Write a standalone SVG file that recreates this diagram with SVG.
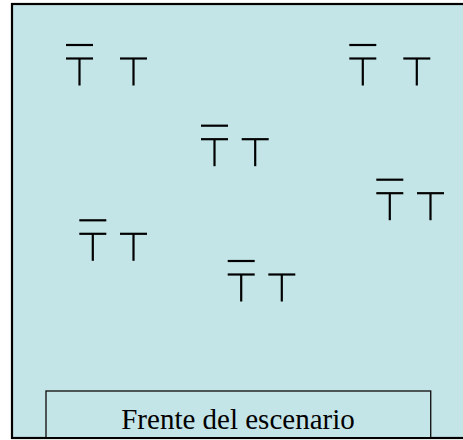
<svg xmlns="http://www.w3.org/2000/svg" xmlns:xlink="http://www.w3.org/1999/xlink" width="463" height="440" viewBox="0 0 463 440">
  <style>
    .frame { fill: #C4E5E8; stroke: #000000; stroke-width: 2.2; }
    .stage { fill: #C4E5E8; stroke: #1a1a1a; stroke-width: 1.4; }
    .mark line { stroke: #000000; stroke-width: 2.2; }
    .label { font-family: "Liberation Serif", "Times New Roman", serif; font-size: 29px; fill: #000000; }
  </style>
  <defs>
    <g id="tOver" class="mark">
      <line x1="0" y1="0" x2="27" y2="0"/>
      <line x1="0" y1="13.5" x2="27" y2="13.5"/>
      <line x1="13.5" y1="13.5" x2="13.5" y2="40.5"/>
    </g>
    <g id="tPlain" class="mark">
      <line x1="0" y1="13.5" x2="27" y2="13.5"/>
      <line x1="13.5" y1="13.5" x2="13.5" y2="40.5"/>
    </g>
  </defs>

  <rect id="background" class="frame" x="12" y="4" width="470" height="434"/>

  <g id="pair1">
    <use xlink:href="#tOver" href="#tOver" x="66" y="45"/>
    <use xlink:href="#tPlain" href="#tPlain" x="120" y="45"/>
  </g>
  <g id="pair2">
    <use xlink:href="#tOver" href="#tOver" x="349.3" y="45"/>
    <use xlink:href="#tPlain" href="#tPlain" x="403.3" y="45"/>
  </g>
  <g id="pair3">
    <use xlink:href="#tOver" href="#tOver" x="201" y="125.7"/>
    <use xlink:href="#tPlain" href="#tPlain" x="241.7" y="125.7"/>
  </g>
  <g id="pair4">
    <use xlink:href="#tOver" href="#tOver" x="376.3" y="179.7"/>
    <use xlink:href="#tPlain" href="#tPlain" x="417" y="179.7"/>
  </g>
  <g id="pair5">
    <use xlink:href="#tOver" href="#tOver" x="79.3" y="220.3"/>
    <use xlink:href="#tPlain" href="#tPlain" x="120" y="220.3"/>
  </g>
  <g id="pair6">
    <use xlink:href="#tOver" href="#tOver" x="227.7" y="261"/>
    <use xlink:href="#tPlain" href="#tPlain" x="268.3" y="261"/>
  </g>

  <g id="stage-front">
    <rect class="stage" x="46" y="391" width="384.7" height="47"/>
    <text class="label" x="238" y="429" text-anchor="middle">Frente del escenario</text>
  </g>
  <line x1="11" y1="438" x2="463" y2="438" stroke="#000000" stroke-width="2.2"/>
</svg>
